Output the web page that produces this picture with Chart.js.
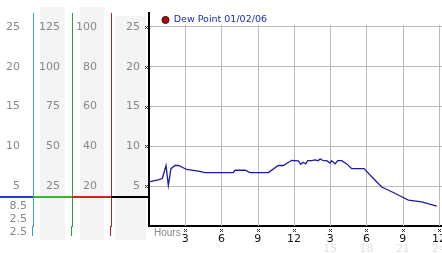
<!DOCTYPE html>
<html>
<head>
<meta charset="utf-8">
<script src="https://cdn.jsdelivr.net/npm/chart.js@4.4.1/dist/chart.umd.min.js"></script>
<style>
  html, body { margin: 0; padding: 0; background: #fff; }
  #wrap { width: 442px; height: 253px; }
</style>
</head>
<body>
<div id="wrap"><canvas id="dewChart" width="442" height="253"></canvas></div>
<script>
// dew point trace (hours since midnight)
var hours = [0, 0.75, 1.1, 1.41, 1.6, 1.82, 2.15, 2.43, 3.12, 4.08, 4.64, 6.98, 7.12, 7.95, 8.36, 9.88,
  10.7, 11.12, 11.81, 12.36, 12.56, 12.77, 12.97, 13.14, 13.47, 13.74, 14.01, 14.16, 14.43, 14.71,
  14.98, 15.12, 15.4, 15.62, 15.95, 16.37, 16.78, 17.8, 18.57, 19.26, 20.09, 20.92, 21.47, 22.57, 23.82];
var dewPoint = [5.54, 5.8, 5.96, 7.6, 5.1, 7.2, 7.6, 7.6, 7.1, 6.9, 6.7, 6.7, 7.0, 7.0, 6.7, 6.7,
  7.6, 7.6, 8.25, 8.17, 7.75, 8.0, 7.8, 8.2, 8.2, 8.3, 8.2, 8.45, 8.2, 8.2,
  7.9, 8.2, 7.8, 8.2, 8.2, 7.8, 7.2, 7.2, 5.96, 4.9, 4.3, 3.67, 3.25, 3.04, 2.5];

var hourLabels = ["", "3", "6", "9", "12", "3", "6", "9", "12"];
var faintLabels = ["", "", "", "", "", "15", "18", "21", "24"];
var readouts = ["8.5", "2.5", "2.5"];
var pointerValue = 3.6;
var legendText = "Dew Point 01/02/06";

var yMax = 26.75;
var fam = "'DejaVu Sans', Verdana, sans-serif";

function keepSteps(step) {
  return function (s) {
    s.ticks = s.ticks.filter(function (t) { return t.value > 0 && Math.abs(t.value / step - Math.round(t.value / step)) < 1e-6; });
  };
}
function fixW(w) {
  return function (s) { s.width = w; s.paddingTop = 0; s.paddingBottom = 0; };
}
function fixH(h) {
  return function (s) { s.height = h; s.paddingLeft = 0; s.paddingRight = 0; };
}

function xMark(ctx, x, y) {
  ctx.fillStyle = "#333";
  ctx.fillRect(x - 1, y - 1, 1, 1);
  ctx.fillRect(x + 1, y - 1, 1, 1);
  ctx.fillRect(x, y, 1, 1);
  ctx.fillRect(x - 1, y + 1, 1, 1);
  ctx.fillRect(x + 1, y + 1, 1, 1);
}

var extras = {
  id: "extras",
  beforeDraw: function (chart) {
    var ctx = chart.ctx, s = chart.scales;
    ctx.save();
    ctx.fillStyle = "#fff";
    ctx.fillRect(0, 0, chart.width, chart.height);
    ctx.fillStyle = "#f4f4f4";
    ctx.fillRect(s.yB.left + 7, 7, s.yB.width - 14, 233);
    ctx.fillRect(s.yC.left + 8, 7, s.yC.width - 15, 233);
    ctx.fillRect(s.y.left + 4, 16, s.y.width - 7, 224);
    ctx.restore();
  },
  beforeDatasetsDraw: function (chart) {
    var ctx = chart.ctx, xs = chart.scales.x, ys = chart.scales.y;
    ctx.save();
    ctx.strokeStyle = "#bbb";
    ctx.lineWidth = 1;
    for (var h = 3; h <= 24; h += 3) {
      var px = Math.round(xs.getPixelForValue(h)) + 0.5;
      ctx.beginPath();
      ctx.moveTo(px, ys.getPixelForValue(25) - 2);
      ctx.lineTo(px, chart.chartArea.bottom);
      ctx.stroke();
    }
    ctx.restore();
  },
  afterDraw: function (chart) {
    var ctx = chart.ctx, s = chart.scales, area = chart.chartArea;
    ctx.save();
    // axis lines running a bit below the plot
    [["yA", "#3a9fc0"], ["yB", "#2ea02e"], ["yC", "#b52020"]].forEach(function (a) {
      ctx.strokeStyle = a[1];
      ctx.lineWidth = 1;
      var px = Math.round(s[a[0]].right) - 0.5;
      ctx.beginPath();
      ctx.moveTo(px, area.bottom);
      ctx.lineTo(px, area.bottom + 10);
      ctx.stroke();
    });
    // pointer line across the side scales
    var py = s.y.getPixelForValue(pointerValue);
    [["yA", "#1a3fd6"], ["yB", "#2ebc2e"], ["yC", "#e02020"], ["y", "#000"]].forEach(function (a) {
      ctx.fillStyle = a[1];
      ctx.fillRect(s[a[0]].left, Math.round(py) - 1, s[a[0]].width, 2);
    });
    // little tick markers
    s.y.ticks.forEach(function (t) {
      xMark(ctx, Math.round(s.y.right) - 3, Math.round(s.y.getPixelForValue(t.value)));
    });
    s.x.ticks.forEach(function (t) {
      if (t.value > 0) xMark(ctx, Math.round(s.x.getPixelForValue(t.value)), Math.round(area.bottom) + 4);
    });
    ctx.font = "10px 'Liberation Sans', Arial, sans-serif";
    ctx.fillStyle = "#888";
    ctx.textBaseline = "middle";
    ctx.textAlign = "left";
    ctx.fillText("Hours", area.left + 5, area.bottom + 7);
    ctx.font = "11px " + fam;
    ctx.textAlign = "right";
    readouts.forEach(function (r, i) {
      ctx.fillText(r, s.yA.right - 6, py + 9 + i * 13);
    });
    ctx.restore();
  }
};

var sideTick = function (pad) {
  return { color: "#888", padding: pad, font: { family: fam, size: 11 } };
};

new Chart(document.getElementById("dewChart"), {
  type: "line",
  data: {
    datasets: [{
      label: legendText,
      data: hours.map(function (h, i) { return { x: h, y: dewPoint[i] }; }),
      borderColor: "#1c1ca0",
      backgroundColor: "#9b1111",
      borderWidth: 1.3,
      pointRadius: 0,
      tension: 0
    }]
  },
  options: {
    responsive: false,
    animation: false,
    events: [],
    layout: { padding: { top: 13, right: 0, left: 0, bottom: 0 } },
    plugins: {
      tooltip: { enabled: false },
      legend: {
        position: "chartArea",
        align: "start",
        title: { display: true, text: "", padding: { top: 0.5, bottom: 0.5 }, font: { size: 1 } },
        labels: {
          usePointStyle: true,
          boxWidth: 7,
          boxHeight: 5,
          padding: 13,
          color: "#1a2cb0",
          font: { family: fam, size: 9.5 },
          generateLabels: function (chart) {
            var items = Chart.defaults.plugins.legend.labels.generateLabels(chart);
            items.forEach(function (it) {
              it.pointStyle = "circle";
              it.fillStyle = "#a01010";
              it.strokeStyle = "#4a0808";
              it.lineWidth = 1;
              it.fontColor = "#1a2cb0";
            });
            return items;
          }
        }
      }
    },
    scales: {
      x: {
        type: "linear",
        position: "bottom",
        min: 0,
        max: 24.25,
        afterBuildTicks: function (s) {
          s.ticks = s.ticks.filter(function (t) { return t.value % 3 === 0; });
        },
        afterFit: fixH(16),
        ticks: {
          stepSize: 3,
          includeBounds: false,
          maxRotation: 0,
          autoSkip: false,
          padding: 7,
          color: "#111",
          font: { family: fam, size: 11 },
          callback: function (v) { return hourLabels[v / 3]; }
        },
        grid: { display: false, drawTicks: false },
        border: { color: "#000", width: 2 }
      },
      x2: {
        type: "linear",
        position: "bottom",
        min: 0,
        max: 24.25,
        afterBuildTicks: function (s) {
          s.ticks = s.ticks.filter(function (t) { return t.value % 3 === 0; });
        },
        afterFit: fixH(11),
        ticks: {
          stepSize: 3,
          includeBounds: false,
          maxRotation: 0,
          autoSkip: false,
          padding: 1,
          color: "#e2e2e2",
          font: { family: fam, size: 11 },
          callback: function (v) { return faintLabels[v / 3]; }
        },
        grid: { display: false, drawTicks: false },
        border: { display: false }
      },
      y: {
        position: "left",
        weight: 0,
        min: 0,
        max: yMax,
        afterBuildTicks: keepSteps(5),
        afterFit: fixW(38),
        ticks: Object.assign(sideTick(9), { stepSize: 5 }),
        grid: { color: "#bbb", drawTicks: false },
        border: { color: "#000", width: 2 }
      },
      yC: {
        position: "left",
        weight: 1,
        min: 0,
        max: yMax * 4,
        afterBuildTicks: keepSteps(20),
        afterFit: fixW(39),
        ticks: Object.assign(sideTick(14), { stepSize: 20 }),
        grid: { display: false, drawTicks: false },
        border: { color: "#b52020", width: 1 }
      },
      yB: {
        position: "left",
        weight: 2,
        min: 0,
        max: yMax * 5,
        afterBuildTicks: keepSteps(25),
        afterFit: fixW(39),
        ticks: Object.assign(sideTick(12), { stepSize: 25 }),
        grid: { display: false, drawTicks: false },
        border: { color: "#2ea02e", width: 1 }
      },
      yA: {
        position: "left",
        weight: 3,
        min: 0,
        max: yMax,
        afterBuildTicks: keepSteps(5),
        afterFit: fixW(33),
        ticks: Object.assign(sideTick(13), { stepSize: 5 }),
        grid: { display: false, drawTicks: false },
        border: { color: "#3a9fc0", width: 1 }
      }
    }
  },
  plugins: [extras]
});
</script>
</body>
</html>
